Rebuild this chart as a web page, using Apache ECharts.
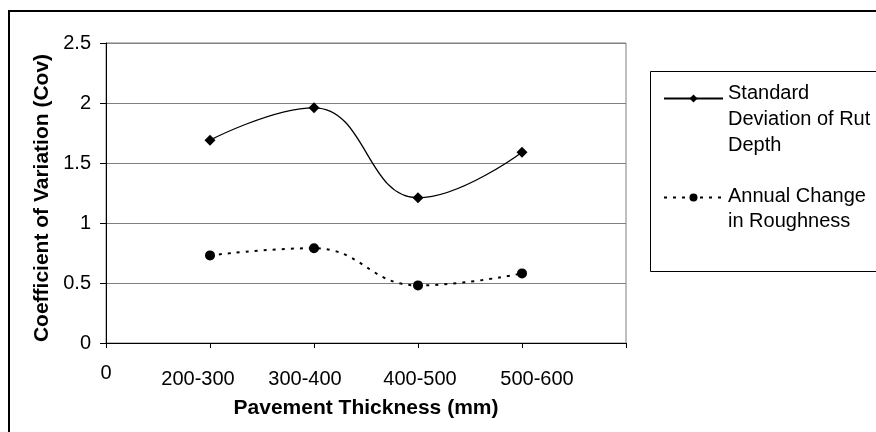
<!DOCTYPE html>
<html>
<head>
<meta charset="utf-8">
<script src="https://cdn.jsdelivr.net/npm/echarts@6/dist/echarts.min.js"></script>
<style>
html,body{margin:0;padding:0;background:#fff;}
#chart{width:876px;height:432px;}
</style>
</head>
<body>
<div id="chart"></div>
<script>
// ---- data ----
const categories = ['200-300', '300-400', '400-500', '500-600'];
const rutDepthCov = [1.69, 1.96, 1.21, 1.59];
const roughnessCov = [0.73, 0.79, 0.48, 0.58];
const seriesNames = ['Standard\nDeviation of Rut\nDepth', 'Annual Change\nin Roughness'];
const yAxisRange = { min: 0, max: 2.5, interval: 0.5 };
const xAxisRange = { min: 0, max: 5, interval: 1 };
const xTitle = 'Pavement Thickness (mm)';
const yTitle = 'Coefficient of Variation (Cov)';

// ---- build ----
const FONT = "'Liberation Sans', Arial, Helvetica, sans-serif";
const catShift = [-12, -9, 2, 15];
const rich = { z: { fontSize: 20, fontFamily: FONT, color: '#000' } };
catShift.forEach(function (s, i) {
  rich['c' + i] = {
    fontSize: 20, fontFamily: FONT, color: '#000',
    padding: [6, s < 0 ? -2 * s : 0, 0, s > 0 ? 2 * s : 0]
  };
});

function legendText(name, prefixLines) {
  let out = '';
  for (let k = 0; k < prefixLines; k++) out += '{g|\u00a0}\n';
  return out + name.split('\n').map(function (l) { return '{t|' + l + '}'; }).join('\n');
}

const chart = echarts.init(document.getElementById('chart'), null, { renderer: 'canvas' });
const option = {
  animation: false,
  backgroundColor: '#fff',
  grid: {
    left: 106, right: 250, top: 43, bottom: 89,
    show: true, borderColor: '#808080', borderWidth: 1,
    containLabel: false, outerBoundsMode: 'none'
  },
  xAxis: {
    type: 'value',
    min: xAxisRange.min, max: xAxisRange.max, interval: xAxisRange.interval,
    axisLine: { show: true, onZero: false, lineStyle: { color: '#000', width: 1 } },
    axisTick: { show: true, length: 5, lineStyle: { color: '#000', width: 1 } },
    splitLine: { show: false },
    axisLabel: {
      margin: 20,
      formatter: function (v) {
        if (v === 0) return '{z|0}';
        const i = Math.round(v) - 1;
        if (i >= 0 && i < categories.length) return '{c' + i + '|' + categories[i] + '}';
        return '';
      },
      rich: rich
    },
    name: xTitle,
    nameLocation: 'middle',
    nameGap: 55,
    nameTextStyle: { fontSize: 21, fontWeight: 'bold', fontFamily: FONT, color: '#000' }
  },
  yAxis: {
    type: 'value',
    min: yAxisRange.min, max: yAxisRange.max, interval: yAxisRange.interval,
    axisLine: { show: true, lineStyle: { color: '#000', width: 1 } },
    axisTick: { show: true, length: 6, lineStyle: { color: '#000', width: 1 } },
    splitLine: { show: true, lineStyle: { color: '#808080', width: 1 } },
    axisLabel: { fontSize: 20, fontFamily: FONT, color: '#000', margin: 15 },
    name: yTitle,
    nameLocation: 'middle',
    nameGap: 52,
    nameTextStyle: { fontSize: 21, fontWeight: 'bold', fontFamily: FONT, color: '#000', padding: [0, 10, 0, 0] }
  },
  legend: [
    {
      data: [seriesNames[0]], left: 663, top: 44, padding: 0,
      itemWidth: 59, itemHeight: 10, selectedMode: false,
      formatter: function (n) { return legendText(n, 2); },
      textStyle: {
        fontSize: 20, fontFamily: FONT, color: '#000',
        rich: {
          g: { fontSize: 10, lineHeight: 21 },
          t: { fontSize: 20, fontFamily: FONT, color: '#000', lineHeight: 26 }
        }
      }
    },
    {
      data: [seriesNames[1]], left: 663, top: 167, padding: 0,
      itemWidth: 59, itemHeight: 10, selectedMode: false,
      formatter: function (n) { return legendText(n, 1); },
      textStyle: {
        fontSize: 20, fontFamily: FONT, color: '#000',
        rich: {
          g: { fontSize: 10, lineHeight: 22.5 },
          t: { fontSize: 20, fontFamily: FONT, color: '#000', lineHeight: 25.5 }
        }
      }
    }
  ],
  graphic: [
    { type: 'rect', silent: true, z: -10,
      shape: { x: 9, y: 11, width: 900, height: 460 },
      style: { fill: 'none', stroke: '#000', lineWidth: 2 } },
    { type: 'rect', silent: true, z: -5,
      shape: { x: 650.5, y: 71.5, width: 260, height: 200 },
      style: { fill: 'none', stroke: '#000', lineWidth: 1 } }
  ],
  series: [
    {
      name: seriesNames[0], type: 'line', smooth: 0.45,
      data: rutDepthCov.map(function (v, i) { return [i + 1, v]; }),
      symbol: 'diamond', symbolSize: 11,
      lineStyle: { color: '#000', width: 1.3 },
      itemStyle: { color: '#000' }
    },
    {
      name: seriesNames[1], type: 'line', smooth: 0.45,
      data: roughnessCov.map(function (v, i) { return [i + 1, v]; }),
      symbol: 'circle', symbolSize: 10,
      lineStyle: { color: '#000', width: 2, type: [3, 6] },
      itemStyle: { color: '#000' }
    }
  ]
};
chart.setOption(option);
</script>
</body>
</html>
